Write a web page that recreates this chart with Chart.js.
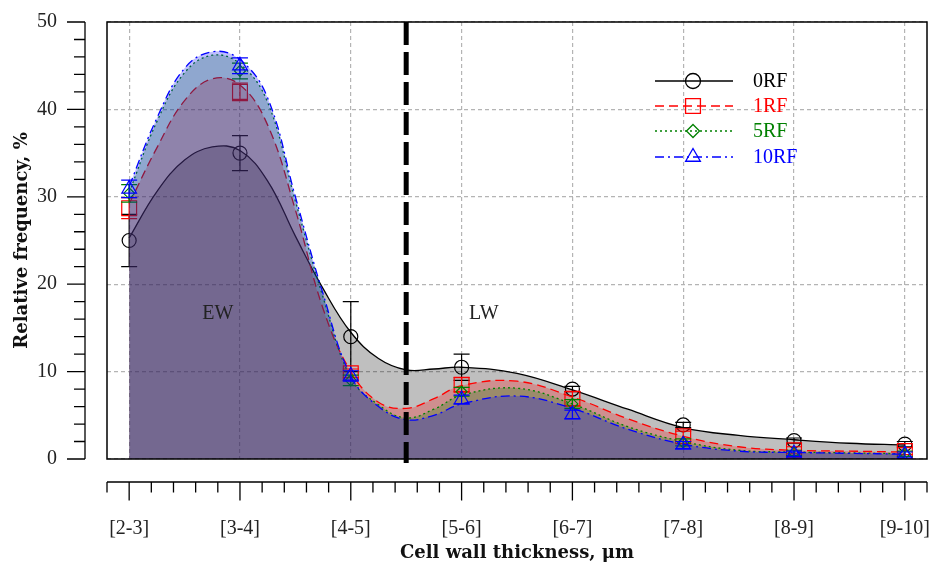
<!DOCTYPE html>
<html>
<head>
<meta charset="utf-8">
<title>Relative frequency vs cell wall thickness</title>
<script src="https://cdn.jsdelivr.net/npm/chart.js"></script>
<style>
  html, body { margin: 0; padding: 0; background: #fff; }
  canvas { display: block; }
</style>
</head>
<body>
<canvas id="chart" width="934" height="565"></canvas>
<script>
// categories of cell wall thickness
const categories = ['[2-3]', '[3-4]', '[4-5]', '[5-6]', '[6-7]', '[7-8]', '[8-9]', '[9-10]'];
const seriesNames = ['0RF', '1RF', '5RF', '10RF'];

// measured points
const rf0 = [25, 35, 14, 10.5, 8, 3.9, 2.1, 1.7];
const rf1 = [28.7, 42, 9.8, 8.5, 6.9, 2.6, 1.0, 0.9];
const rf5 = [30.4, 44.4, 9.0, 7.7, 6.3, 1.9, 0.7, 0.6];
const rf10 = [30.9, 45, 9.5, 6.8, 5.1, 1.6, 0.6, 0.5];

// error bars (+/-)
const err0 = [3, 2, 4, 1.5, 0.3, 0.3, 0.3, 0.3];
const err1 = [1.2, 1, 0.5, 0.8, 0.8, 0.6, 0.4, 0.4];
const err5 = [1, 0.9, 0.6, 0.5, 0.5, 0.4, 0.3, 0.3];
const err10 = [1, 0.9, 0.6, 0.5, 0.5, 0.4, 0.3, 0.3];

// smoothed curves
const curveX = [0, 0.25, 0.5, 0.75, 1, 1.25, 1.5, 1.75, 2, 2.25, 2.5, 2.75, 3, 3.5, 4, 4.5, 5, 5.5, 6, 6.5, 7];
const curve0 = [25.3, 30.6, 34.2, 35.7, 35.3, 31.8, 25.5, 19.5, 14.5, 11.5, 10.2, 10.3, 10.5, 9.8, 7.9, 5.7, 3.6, 2.7, 2.2, 1.8, 1.6];
const curve1 = [29.2, 35.6, 41, 43.5, 42.8, 38.2, 28.5, 17.2, 10, 6.5, 5.8, 6.9, 8.4, 8.9, 7.1, 4.6, 2.6, 1.4, 1.0, 0.9, 0.8];
const curve5 = [30.5, 38.6, 44.2, 46.2, 45.2, 40.8, 29.5, 18.5, 9.3, 6.2, 4.7, 5.7, 7.3, 8.1, 6.3, 3.7, 2.0, 1.0, 0.8, 0.7, 0.6];
const curve10 = [31.2, 39, 44.7, 46.6, 45.7, 41.3, 30, 18.9, 9.5, 6, 4.5, 5.0, 6.3, 7.2, 5.8, 3.4, 1.7, 0.9, 0.75, 0.65, 0.55];

const yTicks = [0, 10, 20, 30, 40, 50];
const divider = 2.5; // EW / LW limit
const zoneLabels = [{ text: 'EW', x: 0.8, y: 16.6 }, { text: 'LW', x: 3.2, y: 16.6 }];

const serif = "'Liberation Serif', 'Times New Roman', serif";
const titleFont = { family: "'DejaVu Serif', serif", size: 18, weight: 'bold' };
const colors = ['#000000', '#ff0000', '#008000', '#0000ff'];
const fills = ['rgba(0,0,0,0.25)', 'rgba(255,0,0,0.25)', 'rgba(0,128,0,0.25)', 'rgba(0,0,255,0.25)'];
const dashes = [[], [9, 5], [2, 3], [9, 4, 2, 4]];
const markers = ['circle', 'rect', 'rectRot', 'triangle'];
const markerSize = [7, 10.5, 5.5, 8.5];

const curves = [curve0, curve1, curve5, curve10];
const points = [rf0, rf1, rf5, rf10];
const errors = [err0, err1, err5, err10];

const datasets = [];
seriesNames.forEach((name, s) => {
  datasets.push({
    label: name,
    data: curveX.map((x, i) => ({ x: x, y: curves[s][i] })),
    borderColor: colors[s],
    backgroundColor: fills[s],
    borderWidth: 1.3,
    borderDash: dashes[s],
    fill: 'origin',
    pointRadius: 0,
    tension: 0.4,
    order: 8 - 2 * s
  });
  datasets.push({
    label: name + ' points',
    data: points[s].map((v, i) => ({ x: i, y: v })),
    errors: errors[s],
    showLine: false,
    fill: false,
    borderColor: colors[s],
    pointStyle: markers[s],
    pointRadius: markerSize[s],
    pointBorderWidth: 1.2,
    pointBackgroundColor: 'rgba(0,0,0,0)',
    pointBorderColor: colors[s],
    order: 7 - 2 * s
  });
});

// error bars right after each point set
const errorBars = {
  id: 'errorBars',
  afterDatasetDraw(chart, args) {
    const ds = chart.data.datasets[args.index];
    if (!ds.errors) return;
    const { ctx, scales: { x, y } } = chart;
    ctx.save();
    ctx.strokeStyle = ds.borderColor;
    ctx.lineWidth = 1.2;
    ds.data.forEach((p, i) => {
      const px = x.getPixelForValue(p.x);
      const top = y.getPixelForValue(p.y + ds.errors[i]);
      const bot = y.getPixelForValue(Math.max(p.y - ds.errors[i], 0));
      ctx.beginPath();
      ctx.moveTo(px, top); ctx.lineTo(px, bot);
      ctx.moveTo(px - 8, top); ctx.lineTo(px + 8, top);
      ctx.moveTo(px - 8, bot); ctx.lineTo(px + 8, bot);
      ctx.stroke();
    });
    ctx.restore();
  }
};

function drawMarker(ctx, style, x, y, r) {
  ctx.beginPath();
  if (style === 'circle') {
    ctx.arc(x, y, r, 0, Math.PI * 2);
  } else if (style === 'rect') {
    const h = r * Math.SQRT1_2;
    ctx.rect(x - h, y - h, 2 * h, 2 * h);
  } else if (style === 'rectRot') {
    ctx.moveTo(x, y - r); ctx.lineTo(x + r, y); ctx.lineTo(x, y + r); ctx.lineTo(x - r, y); ctx.closePath();
  } else {
    for (let k = 0; k < 3; k++) {
      const a = k * 2 * Math.PI / 3;
      const px = x + Math.sin(a) * r, py = y - Math.cos(a) * r;
      if (k === 0) ctx.moveTo(px, py); else ctx.lineTo(px, py);
    }
    ctx.closePath();
  }
  ctx.stroke();
}

const decorations = {
  id: 'decorations',
  afterDatasetsDraw(chart) {
    const { ctx, chartArea: a, scales: { x } } = chart;
    // EW / LW separation
    const dx = x.getPixelForValue(divider);
    ctx.save();
    ctx.strokeStyle = '#000';
    ctx.lineWidth = 5;
    ctx.setLineDash([23, 7]);
    ctx.beginPath();
    ctx.moveTo(dx, a.top);
    ctx.lineTo(dx, a.bottom + 4);
    ctx.stroke();
    ctx.restore();
  },
  afterDraw(chart) {
    const { ctx, chartArea: a, scales: { x, y } } = chart;
    ctx.save();
    // frame
    ctx.strokeStyle = '#000';
    ctx.lineWidth = 1.5;
    ctx.strokeRect(a.left, a.top, a.right - a.left, a.bottom - a.top);

    // offset y axis
    ctx.lineWidth = 1.3;
    const ax = a.left - 22;
    ctx.beginPath();
    ctx.moveTo(ax, y.getPixelForValue(50));
    ctx.lineTo(ax, y.getPixelForValue(0));
    for (let v = 0; v <= 50; v += 2) {
      const py = y.getPixelForValue(v);
      ctx.moveTo(ax, py);
      ctx.lineTo(ax - (v % 10 === 0 ? 18 : 11), py);
    }
    ctx.stroke();

    // offset x axis
    const ay = a.bottom + 23;
    ctx.beginPath();
    ctx.moveTo(x.getPixelForValue(-0.2), ay);
    ctx.lineTo(x.getPixelForValue(7.2), ay);
    for (let k = -1; k <= 36; k++) {
      const px = x.getPixelForValue(k * 0.2);
      ctx.moveTo(px, ay);
      ctx.lineTo(px, ay + (k % 5 === 0 ? 18.5 : 10.5));
    }
    ctx.stroke();

    // EW / LW labels
    ctx.fillStyle = '#222';
    ctx.font = '20px ' + serif;
    ctx.textAlign = 'center';
    ctx.textBaseline = 'middle';
    zoneLabels.forEach(z => ctx.fillText(z.text, x.getPixelForValue(z.x), y.getPixelForValue(z.y)));

    // legend
    const rows = [81, 106, 131, 157];
    ctx.textAlign = 'left';
    seriesNames.forEach((name, s) => {
      ctx.strokeStyle = colors[s];
      ctx.lineWidth = 1.3;
      ctx.setLineDash(dashes[s]);
      ctx.beginPath();
      ctx.moveTo(655, rows[s]);
      ctx.lineTo(733, rows[s]);
      ctx.stroke();
      ctx.setLineDash([]);
      drawMarker(ctx, markers[s], 693, rows[s], [7.5, 10.5, 6.5, 8.5][s]);
      ctx.fillStyle = colors[s];
      ctx.fillText(name, 753, rows[s] + 1);
    });
    ctx.restore();
  }
};

const gridColor = '#b4b4b4';

// on neutralise les marges que Chart.js ajoute autour des étiquettes
function noScalePadding(s) {
  s.paddingTop = 0;
  s.paddingBottom = 0;
  s.paddingLeft = 0;
  s.paddingRight = 0;
}

new Chart(document.getElementById('chart'), {
  type: 'line',
  data: { datasets: datasets },
  options: {
    responsive: false,
    devicePixelRatio: 1,
    animation: false,
    layout: { autoPadding: false, padding: { top: 22, right: 7, left: 0, bottom: 0 } },
    plugins: {
      legend: { display: false },
      tooltip: { enabled: false },
      filler: { drawTime: 'beforeDatasetDraw' }
    },
    scales: {
      x: {
        type: 'linear',
        min: -0.2,
        max: 7.2,
        afterBuildTicks: s => { s.ticks = categories.map((c, i) => ({ value: i })); },
        afterFit: s => { s.height = 106; noScalePadding(s); },
        ticks: {
          callback: v => categories[Math.round(v)],
          font: { family: serif, size: 20 },
          color: '#222',
          padding: 58,
          maxRotation: 0,
          autoSkip: false
        },
        grid: { color: gridColor, lineWidth: 1.2, drawTicks: false },
        border: { display: false, dash: [4, 3] },
        title: {
          display: true,
          text: 'Cell wall thickness, μm',
          font: titleFont,
          color: '#111',
          padding: { top: 0, bottom: 1.2 }
        }
      },
      y: {
        min: 0,
        max: 50,
        afterBuildTicks: s => { s.ticks = yTicks.map(v => ({ value: v })); },
        afterFit: s => { s.width = 107; noScalePadding(s); },
        ticks: {
          font: { family: serif, size: 20 },
          color: '#222',
          padding: 50
        },
        grid: { color: gridColor, lineWidth: 1.2, drawTicks: false },
        border: { display: false, dash: [4, 3] },
        title: {
          display: true,
          text: 'Relative frequency, %',
          font: titleFont,
          color: '#111',
          padding: { top: 11.2, bottom: 0 }
        }
      }
    }
  },
  plugins: [errorBars, decorations]
});
</script>
</body>
</html>
